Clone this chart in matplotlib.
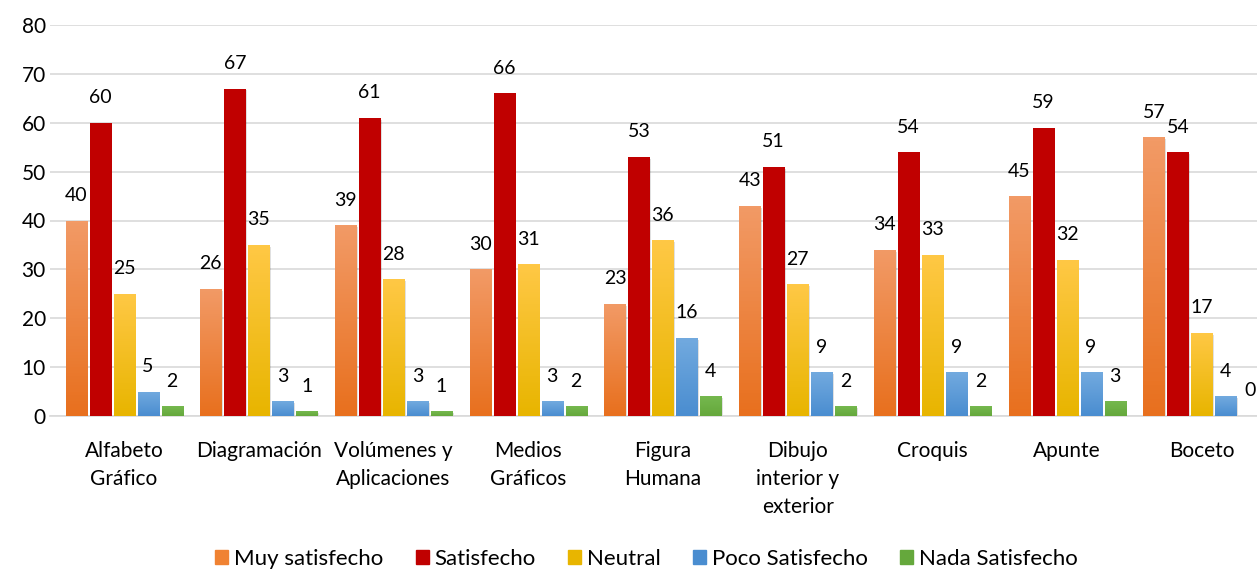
import numpy as np
import matplotlib.pyplot as plt
from matplotlib.colors import LinearSegmentedColormap

plt.rcParams['font.family'] = ['Lato', 'DejaVu Sans']

categorias = ["Alfabeto\nGráfico", "Diagramación", "Volúmenes y\nAplicaciones",
              "Medios\nGráficos", "Figura\nHumana", "Dibujo\ninterior y\nexterior",
              "Croquis", "Apunte", "Boceto"]
series = ["Muy satisfecho", "Satisfecho", "Neutral", "Poco Satisfecho", "Nada Satisfecho"]
muy_satisfecho = [40, 26, 39, 30, 23, 43, 34, 45, 57]
satisfecho = [60, 67, 61, 66, 53, 51, 54, 59, 54]
neutral = [25, 35, 28, 31, 36, 27, 33, 32, 17]
poco_satisfecho = [5, 3, 3, 3, 16, 9, 9, 9, 4]
nada_satisfecho = [2, 1, 1, 2, 4, 2, 2, 3, 0]
valores = [muy_satisfecho, satisfecho, neutral, poco_satisfecho, nada_satisfecho]

# (top colour, bottom colour) for the gradient fill
colores = [("#F29A66", "#E8701E"),
           ("#C00000", "#C00000"),
           ("#FFC845", "#E8B500"),
           ("#72AADF", "#4A8DD0"),
           ("#75B84E", "#65A83C")]

fig = plt.figure(figsize=(12.57, 5.70), dpi=100)
ax = fig.add_axes([50 / 1257, 1 - 416 / 570, 1 - 50 / 1257, (416 - 25) / 570])

x = np.arange(len(categorias))
ancho = 0.156
paso = 0.178

for k, (nombre, vals) in enumerate(zip(series, valores)):
    pos = x + (k - 2) * paso
    top, bot = colores[k]
    bars = ax.bar(pos, vals, ancho, color=top, label=nombre, zorder=3)
    cmap = LinearSegmentedColormap.from_list("g%d" % k, [bot, top])
    grad = np.linspace(0, 1, 64).reshape(-1, 1)
    for b, v in zip(bars, vals):
        if v <= 0:
            continue
        bx, by = b.get_x(), b.get_y()
        w, h = b.get_width(), b.get_height()
        # soft shadow
        ax.bar(bx + w / 2 + 0.012, h, w, bottom=-0.4, color="#000000",
               alpha=0.12, zorder=2, linewidth=0)
        im = ax.imshow(grad, extent=(bx, bx + w, by, by + h), origin="lower",
                       cmap=cmap, aspect="auto", zorder=4)
        im.set_clip_path(b)
        b.set_facecolor("none")
        b.set_edgecolor("none")
        b.set_zorder(4)
    for p, v in zip(pos, vals):
        ax.annotate(str(v), (p, v), xytext=(0, 18), textcoords="offset points",
                    ha="center", va="center", fontsize=14, color="#000000")

# legend handles with solid colours
handles = [plt.Rectangle((0, 0), 1, 1, color=c[1] if i != 0 else "#F08232")
           for i, c in enumerate(colores)]
ax.legend(handles, series, loc="center", bbox_to_anchor=(0.494, -0.365),
          ncol=5, frameon=False, fontsize=16, handlelength=0.6,
          handleheight=0.6, handletextpad=0.25, columnspacing=1.45,
          borderaxespad=0, borderpad=0)

ax.set_xlim(-0.55, 8.41)
ax.set_ylim(0, 80)
ax.set_yticks(range(0, 81, 10))
ax.set_xticks(x)
ax.set_xticklabels(categorias, fontsize=15, linespacing=1.5)
ax.tick_params(axis="y", labelsize=15, length=0, pad=3)
ax.tick_params(axis="x", length=0, pad=18)
ax.yaxis.grid(True, color="#D9D9D9", linewidth=1.2, zorder=0)
ax.set_axisbelow(True)
for s in ["top", "right", "left"]:
    ax.spines[s].set_visible(False)
ax.spines["bottom"].set_color("#D9D9D9")
ax.spines["bottom"].set_linewidth(1.2)

fig.savefig("out.png", dpi=100)
